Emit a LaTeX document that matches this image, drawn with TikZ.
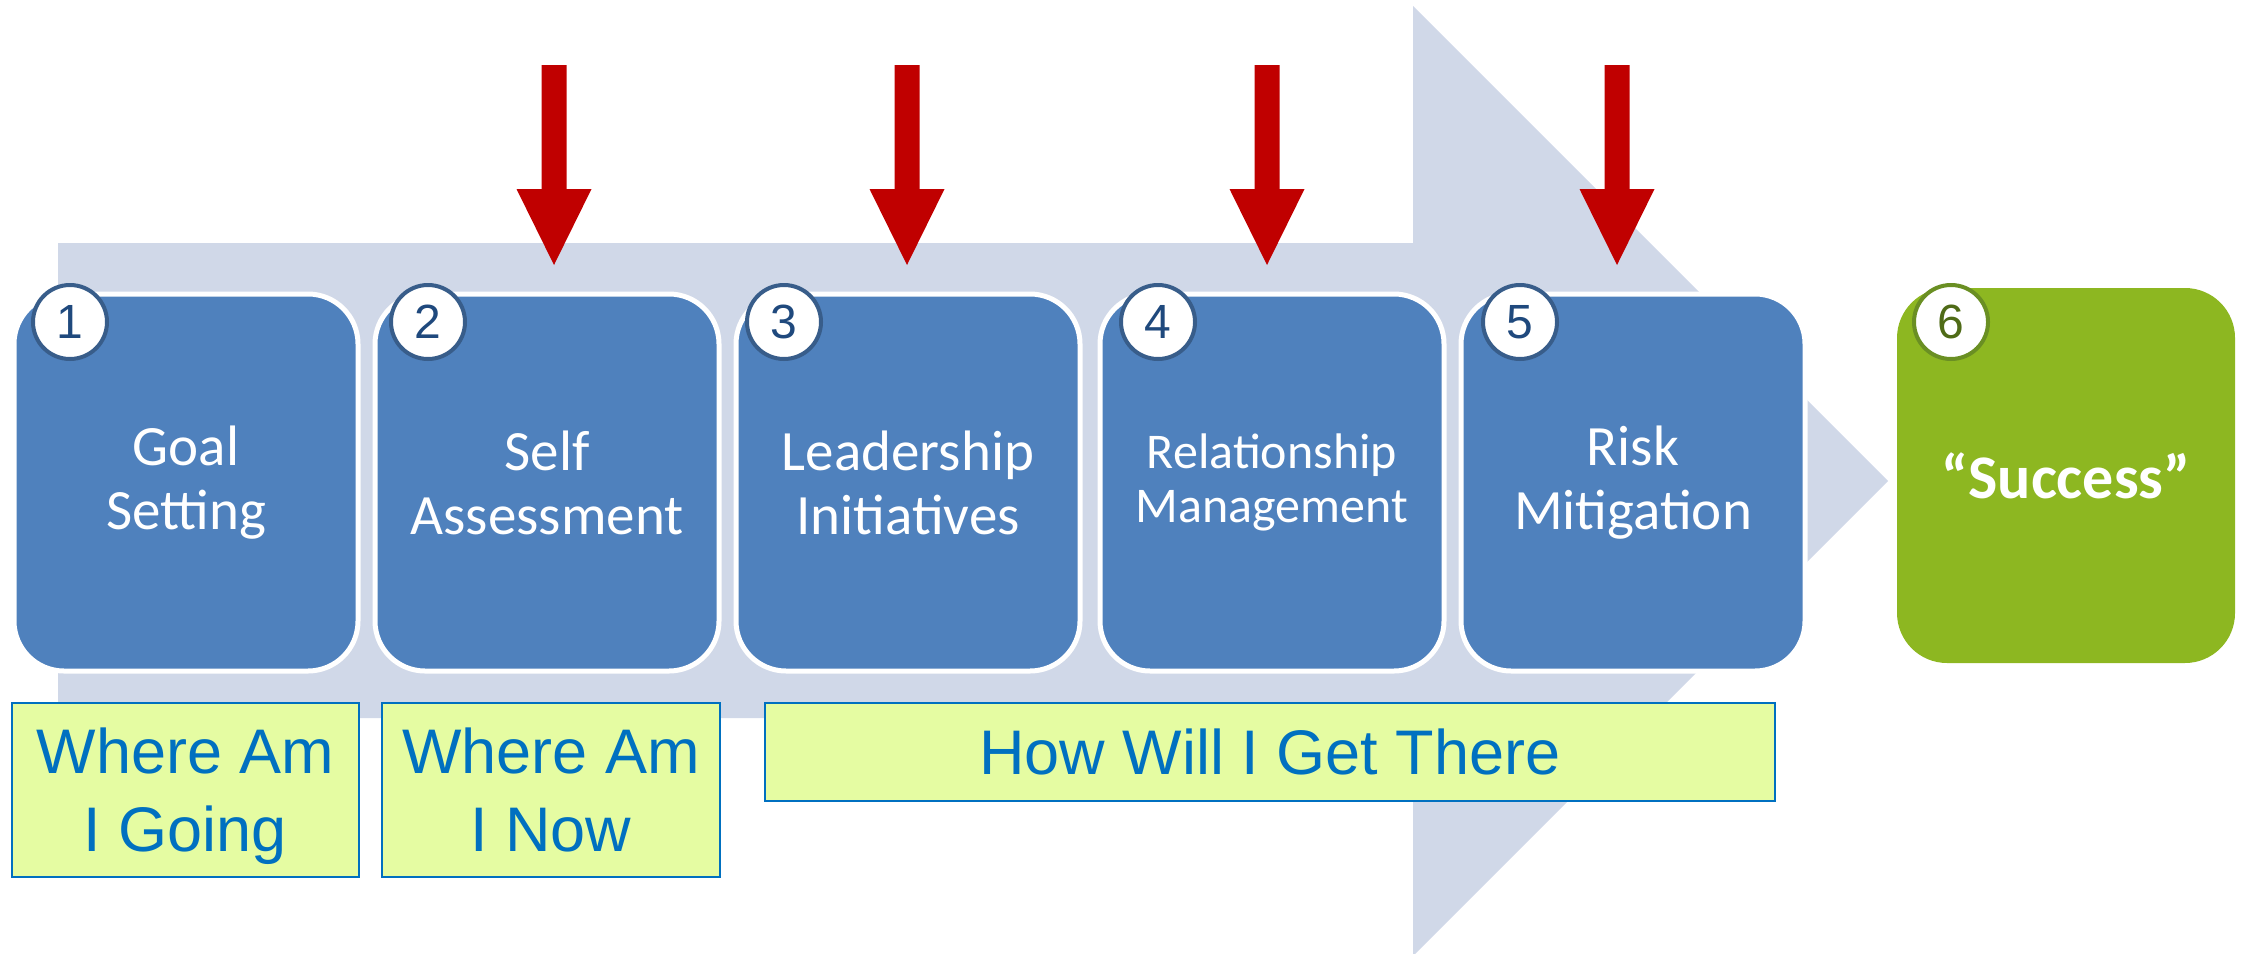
\documentclass[tikz,border=0pt]{standalone}
\usepackage{fontspec}
\setmainfont{Carlito}
\newfontfamily\labelfont{Liberation Sans}

\definecolor{bandgray}{HTML}{D0D8E8}
\definecolor{stepblue}{HTML}{4F81BD}
\definecolor{badgeblue}{HTML}{385D8A}
\definecolor{digitblue}{HTML}{1F497D}
\definecolor{goalgreen}{HTML}{8DB721}
\definecolor{badgegreen}{HTML}{6A8F23}
\definecolor{digitgreen}{HTML}{4F6B17}
\definecolor{arrowred}{HTML}{C00000}
\definecolor{notefill}{HTML}{E5FCA2}
\definecolor{noteblue}{HTML}{0070C0}

\begin{document}
\begin{tikzpicture}[x=1pt, y=-1pt,
  stepbox/.style={draw=white, line width=5pt, fill=stepblue, rounded corners=50pt,
    minimum width=344pt, minimum height=377pt, inner sep=0pt,
    text=white, align=center, font=\fontsize{57}{64}\selectfont},
  goalbox/.style={fill=goalgreen, rounded corners=50pt,
    minimum width=338pt, minimum height=375pt, inner sep=0pt,
    text=white, align=center, font=\bfseries\fontsize{62}{70}\selectfont},
  badge/.style={circle, draw=badgeblue, line width=4pt, fill=white,
    minimum size=74pt, inner sep=0pt, text=digitblue,
    font=\labelfont\fontsize{48}{48}\selectfont},
  greenbadge/.style={badge, draw=badgegreen, text=digitgreen},
  notebox/.style={draw=noteblue, line width=2pt, fill=notefill, inner sep=0pt,
    text=noteblue, align=center, text depth=0pt,
    font=\labelfont\fontsize{63}{78}\selectfont},
  downarrow/.pic={
    \fill[arrowred] (-12.5,65) -- (12.5,65) -- (12.5,189) -- (37.5,189)
      -- (0,265) -- (-37.5,189) -- (-12.5,189) -- cycle;}
]
\useasboundingbox (0,0) rectangle (2250,953);

% wide background arrow
\fill[bandgray] (58,243) -- (1413,243) -- (1413,6) -- (1888,481)
  -- (1413,956) -- (1413,718) -- (58,718) -- cycle;

% process steps
\node[stepbox] (s1) at (186,482.5)  {Goal\\Setting};
\node[stepbox] (s2) at (547,482.5)  {Self\\Assessment};
\node[stepbox] (s3) at (908,482.5)  {Leadership\\Initiatives};
\node[stepbox, font=\fontsize{50}{54}\selectfont] (s4) at (1272,482.5) {Relationship\\Management};
\node[stepbox] (s5) at (1633,482.5) {Risk\\Mitigation};
\node[goalbox] (s6) at (2066,475.5) {“Success”};

% numbered badges
\node[badge] (b1) at (70,322)   {1};
\node[badge] (b2) at (428,322)  {2};
\node[badge] (b3) at (784,322)  {3};
\node[badge] (b4) at (1158,322) {4};
\node[badge] (b5) at (1520,322) {5};
\node[greenbadge] (b6) at (1951,322) {6};

% red pointers above steps 2 to 5
\pic at (554,0)  {downarrow};
\pic at (907,0)  {downarrow};
\pic at (1267,0) {downarrow};
\pic at (1617,0) {downarrow};

% questions under the steps
\node[notebox, minimum width=347pt, minimum height=174pt] (q1) at (185.5,790) {Where Am\\I Going};
\node[notebox, minimum width=338pt, minimum height=174pt] (q2) at (551,790) {Where Am\\I Now};
\node[notebox, minimum width=1010pt, minimum height=98pt] (q3) at (1270,751.5) {How Will I Get There};
\end{tikzpicture}
\end{document}
